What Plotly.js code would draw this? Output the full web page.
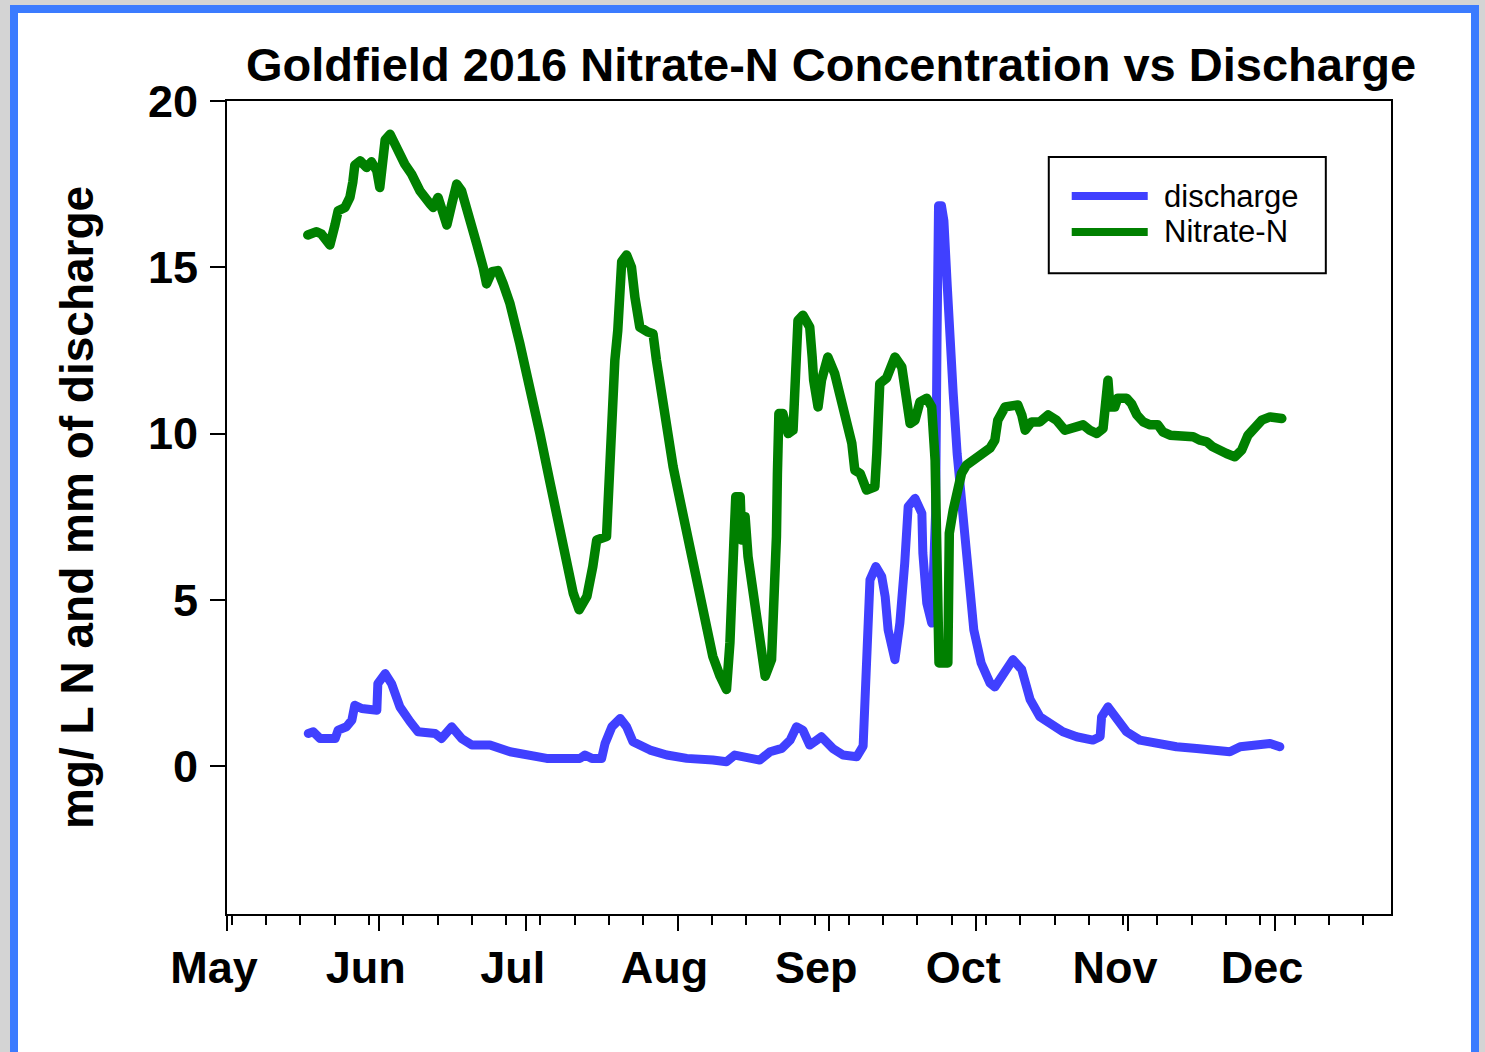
<!DOCTYPE html>
<html>
<head>
<meta charset="utf-8">
<script src="https://cdn.plot.ly/plotly-3.0.1.min.js"></script>
<style>
html,body{margin:0;padding:0;width:1485px;height:1052px;overflow:hidden;background:#d4d4d4;}
#frame{position:absolute;left:10px;top:5px;width:1453px;height:1060px;border:8px solid #3b7bff;background:#ffffff;}
#chart{position:absolute;left:0;top:0;width:1485px;height:1052px;}
#chart path.js-line{stroke-linejoin:round;stroke-linecap:round;}
</style>
</head>
<body>
<div id="frame"></div>
<div id="chart"></div>
<script>
// Days since 2016-05-01
const dischargeDay = [16.6,17.6,19.0,22.1,22.7,24.4,25.5,26.1,27.5,30.6,30.8,32.3,33.6,35.3,37.4,39.0,42.5,43.8,45.9,47.9,50.0,53.7,57.8,61.9,65.3,72.1,73.1,74.5,76.5,77.2,78.6,80.3,81.6,82.9,86.4,89.8,93.9,99.2,102.0,103.7,106.1,108.8,110.9,113.3,115.0,116.3,117.6,119.0,121.4,123.7,125.8,128.6,129.9,130.3,130.7,131.3,132.5,133.7,134.4,135.0,136.4,137.4,138.4,139.1,140.5,141.9,142.1,142.9,143.9,144.7,145.0,145.3,145.9,146.4,147.1,147.5,148.3,149.1,150.3,151.5,152.5,154.0,155.8,156.8,158.5,160.5,162.3,164.0,166.0,168.1,170.7,173.5,176.8,178.3,178.6,179.9,181.7,183.7,186.4,189.8,193.9,198.0,202.1,204.8,206.9,211.0,213.0,215.0];
const discharge = [0.98,1.03,0.83,0.83,1.08,1.18,1.38,1.83,1.73,1.68,2.48,2.78,2.48,1.78,1.33,1.03,0.98,0.83,1.18,0.83,0.63,0.63,0.43,0.33,0.23,0.23,0.33,0.23,0.23,0.68,1.18,1.43,1.18,0.73,0.48,0.33,0.23,0.18,0.13,0.33,0.23,0.18,0.43,0.53,0.78,1.18,1.08,0.63,0.88,0.53,0.33,0.28,0.6,2.5,4.4,5.6,6.0,5.7,5.1,4.1,3.2,4.3,6.1,7.8,8.05,7.6,6.4,4.9,4.3,7.6,12.9,16.85,16.85,16.4,14.4,12.9,11.2,9.4,7.5,5.4,4.1,3.1,2.5,2.38,2.8,3.2,2.9,2.0,1.48,1.28,1.03,0.88,0.78,0.88,1.48,1.78,1.38,1.03,0.78,0.68,0.58,0.53,0.43,0.43,0.58,0.63,0.68,0.58];

const nitrateDay = [16.5,18.3,19.3,21.0,22.05,22.7,24.1,25.1,25.7,26.1,27.2,28.5,29.5,30.6,31.2,31.9,32.3,33.3,34.3,34.9,36.3,37.7,39.4,41.5,42.1,43.1,44.1,44.9,45.9,46.9,47.9,49.2,51.0,52.3,53.0,54.1,55.3,56.4,57.8,59.8,61.9,63.9,66.0,68.0,69.4,70.7,71.9,73.5,74.7,75.5,77.5,77.8,78.2,78.8,79.2,79.8,80.3,80.6,81.6,82.6,83.3,84.3,86.0,87.0,87.7,88.4,89.8,91.1,92.5,93.9,95.2,96.6,98.0,99.2,100.7,102.0,102.7,103.3,103.5,103.9,104.8,105.1,105.8,106.4,107.4,108.4,109.2,109.9,111.2,111.9,112.2,112.4,112.7,113.5,114.6,115.6,116.0,116.3,116.6,117.6,119.0,119.5,119.8,120.7,121.4,122.7,124.1,125.1,126.2,127.6,128.2,129.3,130.6,132.3,132.7,133.3,134.7,135.4,136.4,137.8,138.8,139.5,140.5,141.5,142.9,143.9,144.6,145.4,147.2,147.5,148.3,149.1,150.0,151.0,153.1,155.8,156.8,157.4,158.9,161.5,162.3,163.0,164.3,166.0,167.7,169.4,171.1,172.8,174.8,176.2,177.6,178.9,179.3,179.9,180.3,181.3,181.9,183.7,184.7,185.8,187.1,188.5,190.1,191.1,192.6,195.2,197.3,198.7,200.1,201.3,202.8,204.1,205.8,207.2,208.5,209.9,211.3,213.0,215.4];
const nitrate = [15.97,16.07,16.0,15.67,16.27,16.7,16.8,17.1,17.57,18.07,18.2,18.0,18.17,17.9,17.4,18.2,18.83,19.0,18.7,18.4,18.1,17.8,17.3,16.9,16.8,17.1,16.7,16.27,16.9,17.5,17.3,16.7,15.7,15.0,14.5,14.87,14.9,14.5,13.9,12.7,11.4,10.0,8.5,7.0,6.0,5.2,4.7,5.1,6.0,6.8,6.9,8.0,9.1,10.7,12.2,13.1,14.0,15.17,15.37,15.0,14.1,13.2,13.05,13.0,12.2,11.5,10.2,9.0,8.0,7.0,6.0,5.0,4.1,3.3,2.7,2.3,3.7,5.2,6.7,8.1,8.1,6.8,7.5,6.3,5.3,4.0,3.2,2.7,3.2,5.2,6.9,8.8,10.6,10.6,10.0,10.1,11.5,12.5,13.4,13.56,13.2,12.3,11.6,10.8,11.6,12.3,11.8,11.2,10.6,9.7,8.9,8.8,8.3,8.4,9.4,11.5,11.67,11.9,12.3,12.0,11.0,10.3,10.4,10.95,11.06,10.8,9.2,3.1,3.1,7.0,7.7,8.3,8.8,9.05,9.3,9.56,9.8,10.4,10.8,10.86,10.56,10.1,10.35,10.35,10.56,10.4,10.1,10.15,10.26,10.1,10.0,10.15,11.0,11.6,10.8,10.8,11.06,11.06,10.9,10.56,10.35,10.26,10.26,10.05,9.95,9.92,9.9,9.8,9.75,9.6,9.45,9.4,9.3,9.5,9.95,10.2,10.4,10.5,10.45];

const monthStarts = ['2016-05-01','2016-06-01','2016-07-01','2016-08-01','2016-09-01','2016-10-01','2016-11-01','2016-12-01'];
const monthLabels = ['May','Jun','Jul','Aug','Sep','Oct','Nov','Dec'];
const yTicks = [0,5,10,15,20];

const base = Date.UTC(2016,4,1);
const toDate = d => new Date(base + d*86400000).toISOString().slice(0,19).replace('T',' ');

const FONT = 'Liberation Sans, Arial, Helvetica, sans-serif';
const BLUE = '#4040ff', GREEN = '#008000';

const traces = [
  {x: dischargeDay.map(toDate), y: discharge, name:'discharge', type:'scatter', mode:'lines',
   line:{color:BLUE, width:9}},
  {x: nitrateDay.map(toDate), y: nitrate, name:'Nitrate-N', type:'scatter', mode:'lines',
   line:{color:GREEN, width:9.5}}
];

// paper-coordinate legend box
const L = {x0:0.706, x1:0.944, y0:0.788, y1:0.931, lx0:0.7257, lx1:0.791, tx:0.803, yb:0.883, yg:0.839};

const layout = {
  width:1485, height:1052,
  paper_bgcolor:'rgba(0,0,0,0)', plot_bgcolor:'rgba(0,0,0,0)',
  margin:{l:227, r:94, t:101, b:138, pad:0},
  showlegend:false,
  title:{text:'Goldfield 2016 Nitrate-N Concentration vs Discharge', xref:'container', yref:'container',
         x:831/1485, xanchor:'center', y:1-65/1052, yanchor:'middle',
         font:{family:FONT, size:47, color:'#000', weight:'bold'}},
  xaxis:{type:'date', range:[toDate(0), toDate(237.7)], tickmode:'array', tickvals:monthStarts, ticktext:monthLabels,
         ticks:'outside', ticklen:15, tickwidth:2, tickcolor:'#000',
         showline:true, linewidth:2, linecolor:'#000', mirror:true, showgrid:false, zeroline:false,
         tickfont:{family:FONT, size:45, color:'#000', weight:'bold'}, ticklabelshift:-13, ticklabelstandoff:-2,
         minor:{ticks:'outside', ticklen:9, tickwidth:2, tickcolor:'#000', dtick:7*86400000, tick0:'2016-05-02', showgrid:false}},
  yaxis:{range:[-4.45,20], tickmode:'array', tickvals:yTicks, ticks:'outside', ticklen:15, tickwidth:2, tickcolor:'#000',
         showline:true, linewidth:2, linecolor:'#000', mirror:true, showgrid:false, zeroline:false,
         tickfont:{family:FONT, size:45, color:'#000', weight:'bold'}, ticklabelstandoff:3,
         title:{text:'mg/ L N and mm of discharge', standoff:40, font:{family:FONT, size:46, color:'#000', weight:'bold'}}},
  shapes:[
    {type:'rect', xref:'paper', yref:'paper', x0:L.x0, x1:L.x1, y0:L.y0, y1:L.y1, line:{color:'#000', width:2}, fillcolor:'rgba(0,0,0,0)'},
    {type:'line', xref:'paper', yref:'paper', x0:L.lx0, x1:L.lx1, y0:L.yb, y1:L.yb, line:{color:BLUE, width:8}},
    {type:'line', xref:'paper', yref:'paper', x0:L.lx0, x1:L.lx1, y0:L.yg, y1:L.yg, line:{color:GREEN, width:8}}
  ],
  annotations:[
    {xref:'paper', yref:'paper', x:L.tx, y:L.yb, xanchor:'left', yanchor:'middle', text:'discharge', showarrow:false,
     font:{family:FONT, size:31, color:'#000'}},
    {xref:'paper', yref:'paper', x:L.tx, y:L.yg, xanchor:'left', yanchor:'middle', text:'Nitrate-N', showarrow:false,
     font:{family:FONT, size:31, color:'#000'}}
  ]
};

Plotly.newPlot('chart', traces, layout, {staticPlot:true, displayModeBar:false});
</script>
</body>
</html>
